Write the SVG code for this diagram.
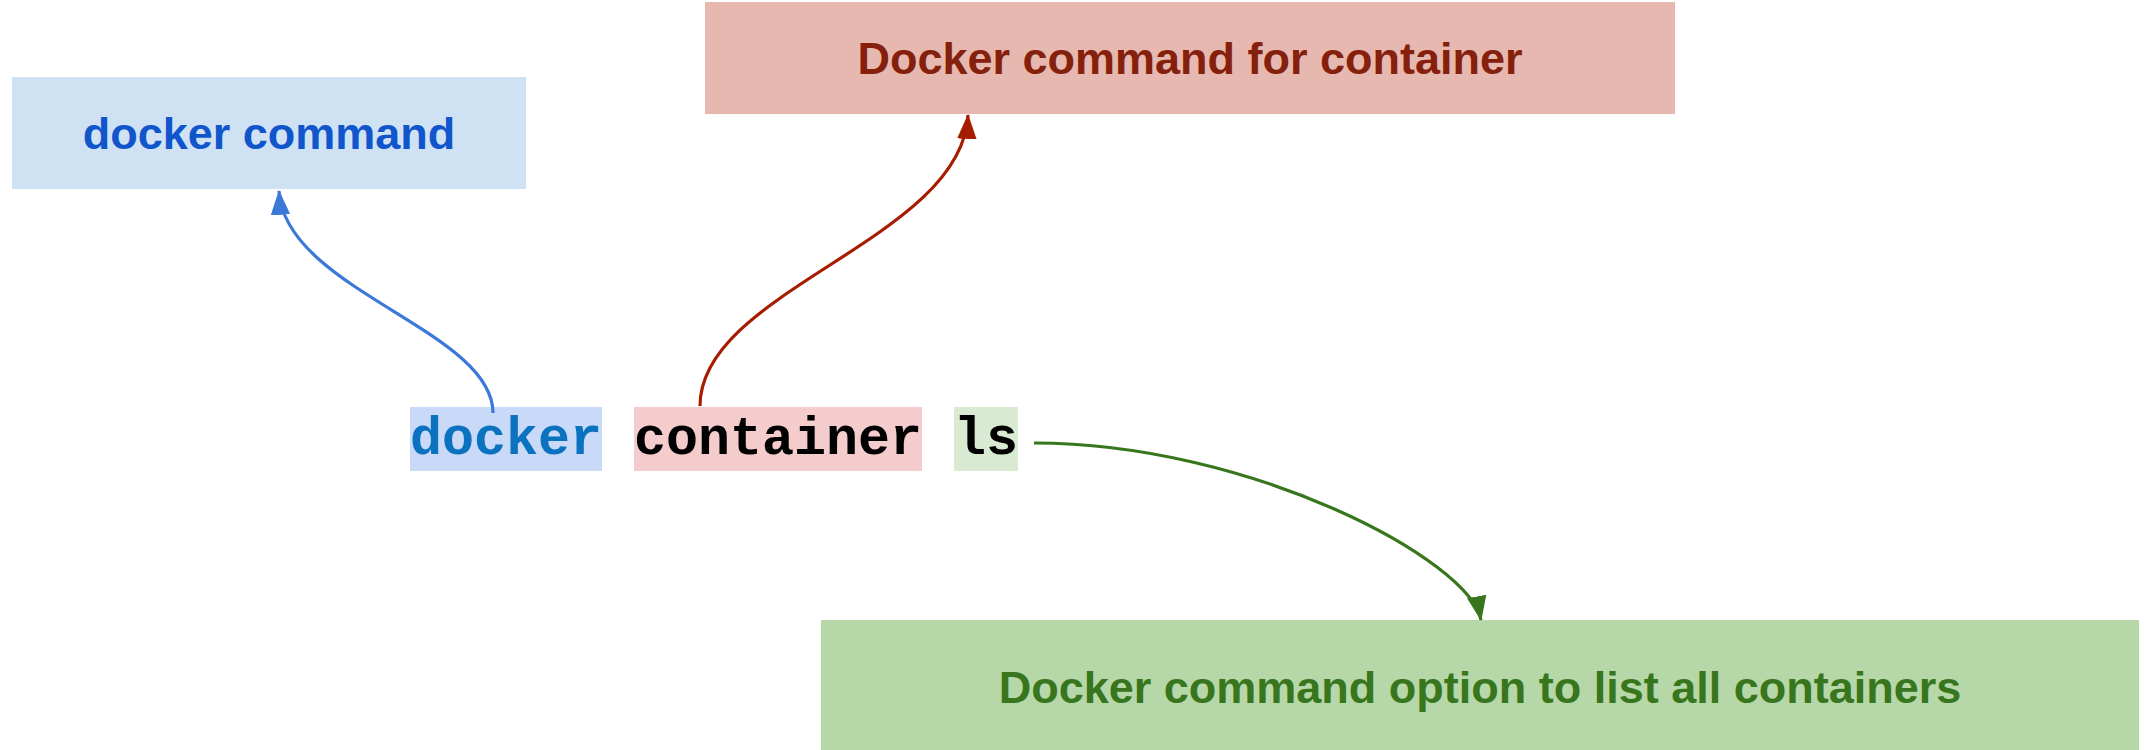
<svg xmlns="http://www.w3.org/2000/svg" width="2146" height="750" viewBox="0 0 2146 750">
<style>
.lbl{font-family:"Liberation Sans",Arial,sans-serif;font-weight:bold;font-size:45px;text-anchor:middle}
.code{font-family:"Liberation Mono","Courier New",monospace;font-weight:bold;font-size:53.33px}
.conn{fill:none;stroke-width:3.2}
</style>
<defs>
<marker id="ab" markerUnits="userSpaceOnUse" markerWidth="25" markerHeight="20" viewBox="0 0 23 18" refX="22" refY="9" orient="auto"><path d="M0,0 L23,9 L0,18 z" fill="#3c78d8"/></marker>
<marker id="ar" markerUnits="userSpaceOnUse" markerWidth="25" markerHeight="20" viewBox="0 0 23 18" refX="22" refY="9" orient="auto"><path d="M0,0 L23,9 L0,18 z" fill="#a61c00"/></marker>
<marker id="ag" markerUnits="userSpaceOnUse" markerWidth="25" markerHeight="20" viewBox="0 0 23 18" refX="22" refY="9" orient="auto"><path d="M0,0 L23,9 L0,18 z" fill="#38761d"/></marker>
</defs>
<rect width="2146" height="750" fill="#ffffff"/>
<g id="node-docker-command">
<rect x="12" y="77" width="514" height="112" fill="#cfe2f3"/>
<text class="lbl" x="269" y="149" fill="#1155cc">docker command</text>
</g>
<g id="node-container-command">
<rect x="705" y="2" width="970" height="112" fill="#e6b8af"/>
<text class="lbl" x="1190" y="74" fill="#85200c">Docker command for container</text>
</g>
<g id="node-ls-option">
<rect x="821" y="620" width="1318" height="135" fill="#b6d7a8"/>
<text class="lbl" x="1480" y="703" fill="#38761d">Docker command option to list all containers</text>
</g>
<g id="node-cmd-docker">
<rect x="410" y="407" width="192" height="64" fill="#c9daf8"/>
<text class="code" x="410" y="454" fill="#0b72c0">docker</text>
</g>
<g id="node-cmd-container">
<rect x="634" y="407" width="288" height="64" fill="#f4cccc"/>
<text class="code" x="634" y="454" fill="#000000">container</text>
</g>
<g id="node-cmd-ls">
<rect x="954" y="407" width="64" height="64" fill="#d9ead3"/>
<text class="code" x="954" y="454" fill="#000000">ls</text>
</g>
<g id="connectors">
<path class="conn" stroke="#3c78d8" d="M493,413 C493,330 285,290 279,191" marker-end="url(#ab)"/>
<path class="conn" stroke="#a61c00" d="M700,406 C700,290 962,240 968,115" marker-end="url(#ar)"/>
<path class="conn" stroke="#38761d" d="M1034,443 C1250,443 1470,560 1481,620" marker-end="url(#ag)"/>
</g>
</svg>
